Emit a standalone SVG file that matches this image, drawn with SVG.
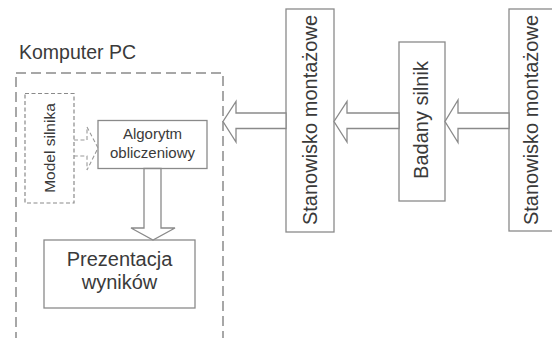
<svg xmlns="http://www.w3.org/2000/svg" width="552" height="338" viewBox="0 0 552 338">
<style>
.box{fill:#fff;stroke:#8a8a8a;stroke-width:1.3}
.dash{fill:none;stroke:#8a8a8a;stroke-width:1.5;stroke-dasharray:10 5}
.dash2{fill:none;stroke:#8a8a8a;stroke-width:1.2;stroke-dasharray:4 2.5}
.arr{fill:#fff;stroke:#8a8a8a;stroke-width:1.3;stroke-linejoin:miter}
.darr{fill:none;stroke:#9a9a9a;stroke-width:1.1;stroke-dasharray:4 2.5}
text{font-family:"Liberation Sans",Arial,sans-serif;fill:#3a3a3a}
.t20{font-size:20px}
.t15{font-size:15px}
</style>
<rect width="552" height="338" fill="#fff"/>
<g id="komputer">
<rect class="dash" x="16" y="73" width="207" height="280"/>
<text class="t20" x="19" y="59" style="font-size:19.5px">Komputer PC</text>
</g>
<g id="model">
<rect class="dash2" x="25" y="93.5" width="49" height="109.5"/>
<text class="t15" transform="translate(55,148) rotate(-90)" text-anchor="middle" style="font-size:15.5px">Model silnika</text>
</g>
<g id="algorytm">
<rect class="box" x="98" y="120.5" width="109" height="48"/>
<text class="t15" x="152.5" y="139" text-anchor="middle">Algorytm</text>
<text class="t15" x="152.5" y="158" text-anchor="middle">obliczeniowy</text>
</g>
<g id="prezentacja">
<rect class="box" x="44" y="240" width="151" height="68"/>
<text class="t20" x="119.5" y="266" text-anchor="middle">Prezentacja</text>
<text class="t20" x="119.5" y="289" text-anchor="middle">wyników</text>
</g>
<g id="stanowisko1">
<rect class="box" x="286" y="9" width="48" height="223"/>
<text class="t20" transform="translate(317,120) rotate(-90)" text-anchor="middle">Stanowisko montażowe</text>
</g>
<g id="badany">
<rect class="box" x="399" y="42" width="46" height="159"/>
<text class="t20" transform="translate(428,120) rotate(-90)" text-anchor="middle">Badany silnik</text>
</g>
<g id="stanowisko2">
<rect class="box" x="509" y="9" width="48" height="222"/>
<text class="t20" transform="translate(538,120) rotate(-90)" text-anchor="middle">Stanowisko montażowe</text>
</g>
<g id="connectors">
<polygon class="arr" points="286,113 236,113 236,101.5 223,121.5 236,142 236,128.5 286,128.5"/>
<polygon class="arr" points="399,113 347,113 347,101.5 334,121.5 347,142 347,128.5 399,128.5"/>
<polygon class="arr" points="509,113 458,113 458,100 445,121.5 458,142.5 458,128.5 509,128.5"/>
<polygon class="arr" points="144,168.5 144,228 131,228 153,240 175,228 161,228 161,168.5"/>
<polyline class="darr" points="74,140 87,140 87,127 98,148 87,170 87,156 74,156"/>
</g>
</svg>
